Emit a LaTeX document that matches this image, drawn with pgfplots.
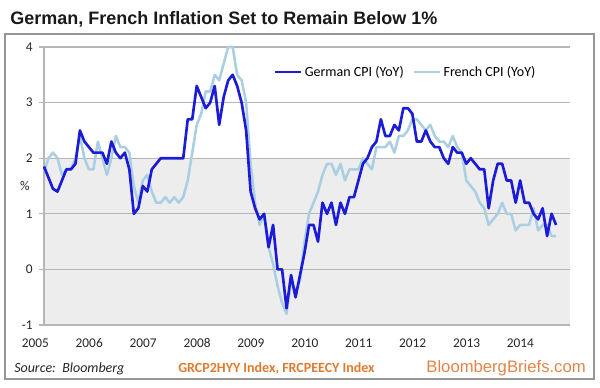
\documentclass[border=0pt]{standalone}
\usepackage{fontspec}
\setmainfont{Carlito}
\newfontfamily\titlefont{Liberation Sans}
\usepackage{pgfplots}
\usepackage{pgfplotstable}
\pgfplotsset{compat=1.18}
\definecolor{german}{RGB}{28,28,214}
\definecolor{french}{RGB}{170,206,226}
\definecolor{band}{RGB}{237,237,237}
\definecolor{gridc}{RGB}{182,182,182}
\definecolor{framec}{RGB}{150,150,150}
\definecolor{orangeA}{RGB}{224,122,46}
\definecolor{orangeB}{RGB}{228,132,72}
\pgfplotstableread{
m de fr
0 1.85 1.75
1 1.65 2.0
2 1.45 2.1
3 1.4 2.0
4 1.6 1.7
5 1.8 1.8
6 1.8 1.8
7 1.9 2.0
8 2.5 2.4
9 2.3 2.0
10 2.2 1.8
11 2.1 1.8
12 2.1 2.3
13 2.1 2.0
14 1.9 1.7
15 2.3 2.0
16 2.1 2.4
17 2.0 2.2
18 2.1 2.2
19 1.8 2.1
20 1.0 1.5
21 1.1 1.2
22 1.5 1.6
23 1.4 1.7
24 1.8 1.4
25 1.9 1.2
26 2.0 1.2
27 2.0 1.3
28 2.0 1.2
29 2.0 1.3
30 2.0 1.2
31 2.0 1.3
32 2.7 1.6
33 2.7 2.1
34 3.3 2.6
35 3.1 2.8
36 2.9 3.2
37 3.0 3.2
38 3.3 3.5
39 2.6 3.4
40 3.1 3.7
41 3.4 4.0
42 3.5 4.0
43 3.3 3.5
44 3.0 3.4
45 2.5 3.0
46 1.4 1.9
47 1.1 1.2
48 0.9 0.8
49 1.0 1.0
50 0.4 0.4
51 0.8 0.1
52 0.0 -0.3
53 0.0 -0.6
54 -0.7 -0.8
55 -0.1 -0.2
56 -0.5 -0.4
57 -0.1 -0.2
58 0.3 0.5
59 0.8 1.0
60 0.8 1.2
61 0.5 1.4
62 1.2 1.7
63 1.0 1.9
64 1.2 1.9
65 0.8 1.7
66 1.2 1.9
67 1.0 1.6
68 1.3 1.8
69 1.3 1.8
70 1.6 1.8
71 1.9 2.0
72 2.0 1.9
73 2.2 1.8
74 2.3 2.2
75 2.7 2.2
76 2.4 2.2
77 2.4 2.3
78 2.6 2.1
79 2.5 2.4
80 2.9 2.4
81 2.9 2.5
82 2.8 2.7
83 2.3 2.7
84 2.3 2.6
85 2.5 2.5
86 2.3 2.6
87 2.2 2.4
88 2.2 2.3
89 2.0 2.3
90 1.9 2.2
91 2.2 2.4
92 2.1 2.2
93 2.1 2.1
94 1.9 1.6
95 2.0 1.5
96 1.9 1.4
97 1.8 1.2
98 1.8 1.1
99 1.1 0.8
100 1.6 0.9
101 1.9 1.0
102 1.9 1.2
103 1.6 1.0
104 1.6 1.0
105 1.2 0.7
106 1.6 0.8
107 1.2 0.8
108 1.2 0.8
109 1.0 1.1
110 0.9 0.7
111 1.1 0.8
112 0.6 0.8
113 1.0 0.6
114 0.8 0.6
}\data
\begin{document}
\begin{tikzpicture}
\path (0,0) rectangle (450pt,-290.25pt);
\draw[framec, line width=1.1pt] (3.75pt,-25.5pt) rectangle (445.5pt,-284.25pt);
\node[anchor=base west, inner sep=0pt, font=\titlefont\bfseries\fontsize{13.5}{16}\selectfont, text=black!90] at (7.5pt,-18pt) {German, French Inflation Set to Remain Below 1\%};
\begin{axis}[
  set layers,
  at={(33pt,-243.75pt)}, anchor=south west,
  scale only axis, width=394.5pt, height=208.5pt,
  xmin=0, xmax=117.1, ymin=-1, ymax=4,
  clip=false,
  axis line style={draw=none},
  ytick={-1,0,1,2,3,4},
  xtick={0,12,24,36,48,60,72,84,96,108},
  xticklabels={2005,2006,2007,2008,2009,2010,2011,2012,2013,2014},
  ymajorgrids, grid style={gridc, line width=0.9pt},
  tick align=outside, major tick length=3.75pt,
  ytick pos=left, xtick pos=bottom,
  xtick style={draw=none},
  ytick style={gridc, line width=0.8pt},
  ticklabel style={font=\fontsize{10}{12}\selectfont, text=black!85},
  /pgf/number format/assume math mode=true,
  yticklabel style={anchor=east, inner sep=0pt, xshift=-4.5pt},
  xticklabel style={anchor=center, inner sep=0pt, xshift=-6.5pt, yshift=-10pt},
  legend style={at={(0.437,0.91)}, anchor=west, draw=none, fill=none, inner sep=0pt,
    font=\fontsize{10.5}{12}\selectfont, legend columns=2,
    /tikz/every even column/.append style={column sep=5pt}},
  legend image code/.code={\draw[#1] (0pt,0pt) -- (19pt,0pt);},
]
\begin{pgfonlayer}{axis background}
\fill[band] (axis cs:0,-1) rectangle (axis cs:117.1,2);
\end{pgfonlayer}
\draw[gridc, line width=0.9pt] (rel axis cs:0,0) -- (rel axis cs:0,1);
\addlegendimage{german, line width=2pt}
\addlegendentry{German CPI (YoY)}
\addlegendimage{french, line width=1.9pt}
\addlegendentry{French CPI (YoY)}
\addplot[french, line width=1.9pt, line join=round, forget plot] table[x=m, y=fr] {\data};
\addplot[german, line width=2pt, line join=round, forget plot] table[x=m, y=de] {\data};
\end{axis}
\node[font=\fontsize{10}{12}\selectfont, text=black!85] at (18.75pt,-139.5pt) {\%};
\node[anchor=base west, inner sep=0pt, font=\itshape\fontsize{10.5}{12}\selectfont, text=black!85] at (10.5pt,-279pt) {Source:\ \ Bloomberg};
\node[anchor=base west, inner sep=0pt, font=\bfseries\fontsize{10.5}{12}\selectfont, text=orangeA] at (133.5pt,-279pt) {GRCP2HYY Index, FRCPEECY Index};
\node[anchor=base east, inner sep=0pt, font=\titlefont\fontsize{12.5}{14}\selectfont, text=orangeB] at (439.5pt,-279pt) {BloombergBriefs.com};
\end{tikzpicture}
\end{document}
